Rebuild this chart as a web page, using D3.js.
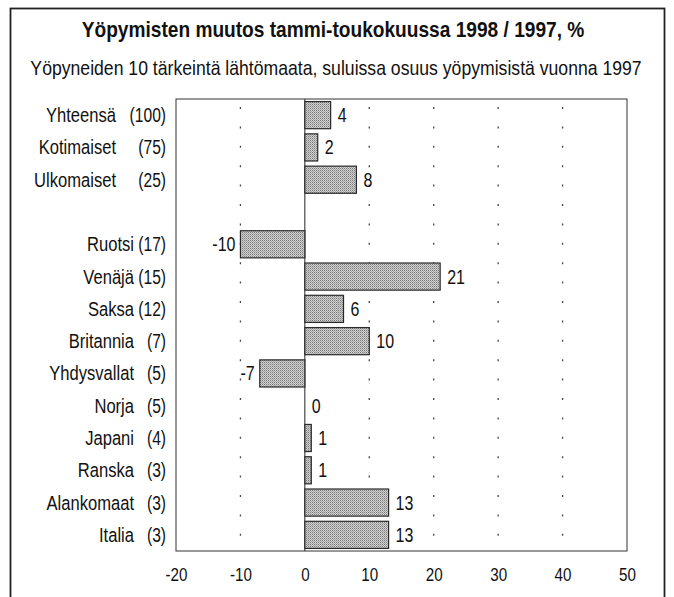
<!DOCTYPE html>
<html>
<head>
<meta charset="utf-8">
<script src="https://cdn.jsdelivr.net/npm/d3@7"></script>
<style>
  body { margin: 0; background: #fff; }
  svg text { font-family: "Liberation Sans", Arial, Helvetica, sans-serif; fill: #111; }
</style>
</head>
<body>
<div id="chart"></div>
<script>
// data
var categories = ["Yhteensä", "Kotimaiset", "Ulkomaiset", "Ruotsi", "Venäjä", "Saksa", "Britannia",
                  "Yhdysvallat", "Norja", "Japani", "Ranska", "Alankomaat", "Italia"];
var shares = [100, 75, 25, 17, 15, 12, 7, 5, 5, 4, 3, 3, 3];
var changes = [4, 2, 8, -10, 21, 6, 10, -7, 0, 1, 1, 13, 13];
var xTicks = [-20, -10, 0, 10, 20, 30, 40, 50];

var title = "Yöpymisten muutos tammi-toukokuussa 1998 / 1997, %";
var subtitle = "Yöpyneiden 10 tärkeintä lähtömaata, suluissa osuus yöpymisistä vuonna 1997";

var width = 674, height = 597;
var plot = { left: 176, right: 627, top: 99, bottom: 551 };

var svg = d3.select("#chart").append("svg")
    .attr("width", width)
    .attr("height", height);

// squeeze a text horizontally around its anchor point (the original uses a condensed grotesque)
function place(sel, fx, fy, sx) {
    sel.attr("transform", function(d, i) {
        var px = typeof fx === "function" ? fx(d, i) : fx;
        var py = typeof fy === "function" ? fy(d, i) : fy;
        return "translate(" + px + "," + py + ") scale(" + sx + ",1)";
    });
}

// stipple fill for the bars
var defs = svg.append("defs");
var pat = defs.append("pattern")
    .attr("id", "stipple")
    .attr("width", 2).attr("height", 2)
    .attr("patternUnits", "userSpaceOnUse");
pat.append("rect").attr("width", 2).attr("height", 2).attr("fill", "#d2d2d2");
pat.append("rect").attr("width", 1).attr("height", 1).attr("fill", "#777");
pat.append("rect").attr("x", 1).attr("y", 1).attr("width", 1).attr("height", 1).attr("fill", "#a4a4a4");

// outer frame
svg.append("rect")
    .attr("x", 10.5).attr("y", 8.5)
    .attr("width", 654).attr("height", 600)
    .attr("fill", "none").attr("stroke", "#222").attr("stroke-width", 1.8);

svg.append("text")
    .attr("text-anchor", "middle")
    .attr("font-size", 22.5).attr("font-weight", "bold")
    .text(title)
    .call(place, 333, 37, 0.85);

svg.append("text")
    .attr("text-anchor", "middle")
    .attr("font-size", 20.5)
    .text(subtitle)
    .call(place, 336, 75, 0.86);

// rows: first three are totals, then an empty slot, then countries
var slots = categories.slice(0, 3).concat(["_gap"], categories.slice(3));

var x = d3.scaleLinear().domain([-20, 50]).range([plot.left, plot.right]);
var y = d3.scaleBand().domain(slots).range([plot.top, plot.bottom]).paddingInner(0.16).paddingOuter(0.08);

var rows = categories.map(function(c, i) {
    return { name: c, share: shares[i], value: changes[i], total: i < 3 };
});
function rowMid(d) { return y(d.name) + y.bandwidth() / 2; }

// plot frame
svg.append("rect")
    .attr("x", plot.left).attr("y", plot.top)
    .attr("width", plot.right - plot.left).attr("height", plot.bottom - plot.top)
    .attr("fill", "#fff").attr("stroke", "#333").attr("stroke-width", 1);

// dotted gridlines
svg.selectAll("line.grid")
    .data(xTicks.filter(function(t) { return t !== -20 && t !== 0 && t !== 50; }))
    .enter().append("line")
    .attr("class", "grid")
    .attr("x1", function(d) { return x(d); })
    .attr("x2", function(d) { return x(d); })
    .attr("y1", plot.top + 8).attr("y2", plot.bottom)
    .attr("stroke", "#444").attr("stroke-width", 1.3)
    .attr("stroke-dasharray", "2,17.4");

// zero line
svg.append("line")
    .attr("x1", x(0)).attr("x2", x(0))
    .attr("y1", plot.top).attr("y2", plot.bottom)
    .attr("stroke", "#222").attr("stroke-width", 1);

// bars
svg.selectAll("rect.bar")
    .data(rows.filter(function(d) { return d.value !== 0; }))
    .enter().append("rect")
    .attr("class", "bar")
    .attr("x", function(d) { return x(Math.min(0, d.value)); })
    .attr("y", function(d) { return y(d.name); })
    .attr("width", function(d) { return Math.abs(x(d.value) - x(0)); })
    .attr("height", y.bandwidth())
    .attr("fill", "url(#stipple)")
    .attr("stroke", "#2a2a2a").attr("stroke-width", 1.2);

// value labels
svg.selectAll("text.val")
    .data(rows)
    .enter().append("text")
    .attr("class", "val")
    .attr("dy", "0.36em")
    .attr("text-anchor", function(d) { return d.value < 0 ? "end" : "start"; })
    .attr("font-size", 19.5)
    .text(function(d) { return d.value; })
    .call(place, function(d) { return d.value < 0 ? x(d.value) - 5 : x(d.value) + 7; }, rowMid, 0.82);

// category names and shares
svg.selectAll("text.name")
    .data(rows)
    .enter().append("text")
    .attr("class", "name")
    .attr("dy", "0.36em")
    .attr("text-anchor", "end")
    .attr("font-size", 19.5)
    .text(function(d) { return d.name; })
    .call(place, function(d) { return d.total ? 116 : 134; }, rowMid, 0.85);

svg.selectAll("text.share")
    .data(rows)
    .enter().append("text")
    .attr("class", "share")
    .attr("dy", "0.36em")
    .attr("text-anchor", "end")
    .attr("font-size", 19.5)
    .text(function(d) { return "(" + d.share + ")"; })
    .call(place, 166, rowMid, 0.8);

// x axis
var xAxis = d3.axisBottom(x)
    .tickValues(xTicks)
    .tickFormat(function(d) { return String(d); })
    .tickSize(0)
    .tickPadding(17);
var gx = svg.append("g")
    .attr("transform", "translate(0," + plot.bottom + ")")
    .call(xAxis);
gx.select(".domain").remove();
gx.selectAll("text")
    .attr("font-size", 19)
    .attr("font-family", "\"Liberation Sans\", Arial, sans-serif")
    .attr("fill", "#111")
    .attr("transform", "scale(0.8,1)");
</script>
</body>
</html>
